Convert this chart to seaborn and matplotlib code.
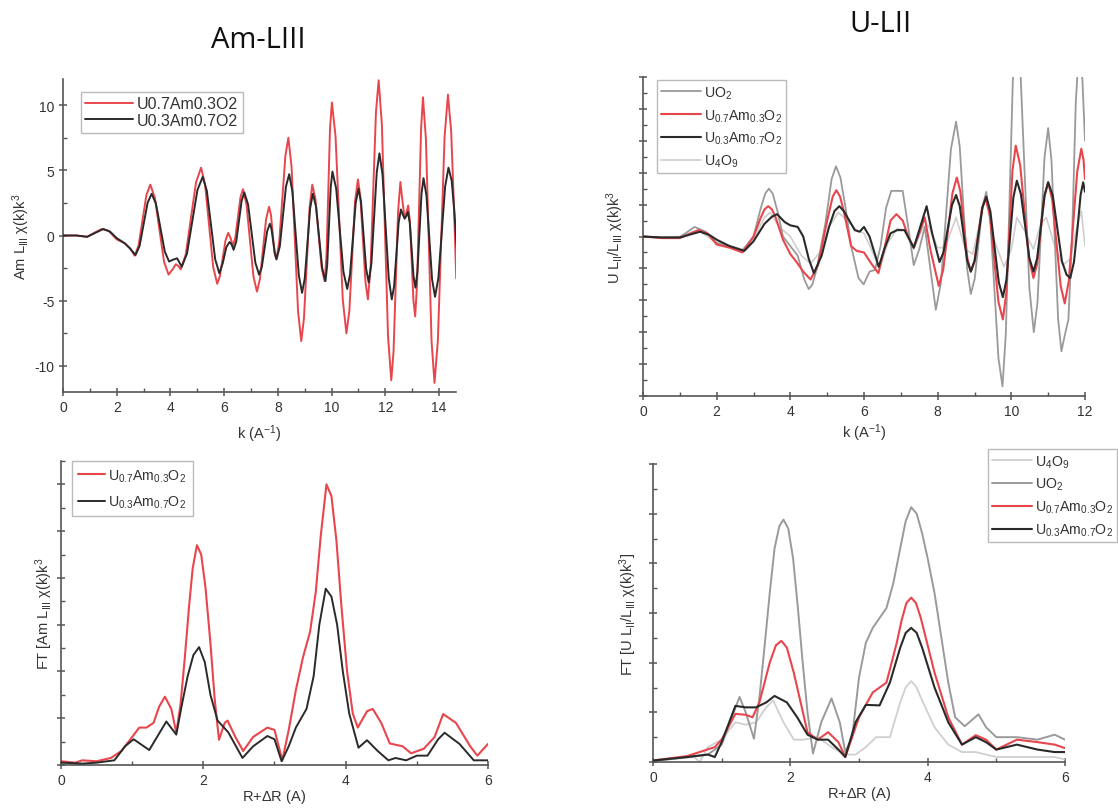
import numpy as np
import pandas as pd
import matplotlib
matplotlib.use("Agg")
import matplotlib.pyplot as plt
from matplotlib.ticker import MultipleLocator, NullFormatter
import seaborn as sns

# ---------------- data: top-left (Am L3 EXAFS) ----------------
tl_red_k = [0.0, 0.5, 0.9, 1.2, 1.45, 1.7, 2.0, 2.3, 2.5, 2.67,
            2.815, 2.96, 3.105, 3.25, 3.42, 3.59, 3.76, 3.93, 4.08, 4.2, 4.3, 4.38,
            4.57, 4.76, 4.95, 5.14, 5.29, 5.44, 5.59, 5.74, 5.84, 5.945, 6.05, 6.15, 6.24, 6.32,
            6.415, 6.51, 6.605, 6.70, 6.83, 6.96, 7.09, 7.22, 7.33, 7.445, 7.56, 7.67,
            7.74, 7.805, 7.87, 7.94, 8.05, 8.165, 8.28, 8.39, 8.51, 8.63, 8.75, 8.87,
            8.97, 9.075, 9.18, 9.28, 9.395, 9.51, 9.625, 9.74, 9.81, 9.875, 9.94, 10.01,
            10.145, 10.28, 10.415, 10.55, 10.66, 10.765, 10.87, 10.98, 11.07, 11.165, 11.26, 11.35,
            11.45, 11.55, 11.65, 11.75, 11.87, 11.985, 12.10, 12.22, 12.305, 12.39, 12.475, 12.56,
            12.64, 12.72, 12.79, 12.85, 12.915, 12.98, 13.045, 13.11, 13.18, 13.255, 13.33, 13.40,
            13.51, 13.615, 13.72, 13.83, 13.955, 14.08, 14.205, 14.33, 14.45, 14.55, 14.64]
tl_red_v = [0.0, 0.0, -0.1, 0.25, 0.5, 0.35, -0.3, -0.6, -1.0, -1.55,
            -0.75, 1.18, 3.10, 3.9, 2.89, 0.45, -1.99, -3.0, -2.6, -2.2, -2.35, -2.6,
            -1.46, 1.3, 4.06, 5.2, 3.9, 0.75, -2.4, -3.7, -3.13, -1.75, -0.37, 0.2, -0.2, -0.8,
            -0.16, 1.38, 2.91, 3.55, 2.40, -0.38, -3.15, -4.3, -3.35, -1.05, 1.25, 2.2,
            1.61, 0.18, -1.26, -1.85, -0.48, 2.83, 6.13, 7.5, 5.22, -0.3, -5.82, -8.1,
            -6.35, -2.1, 2.15, 3.9, 2.82, 0.2, -2.42, -3.5, -1.5, 3.35, 8.2, 10.2,
            7.62, 1.35, -4.92, -7.5, -5.78, -1.6, 2.58, 4.3, 2.96, -0.3, -3.56, -4.9,
            -2.45, 3.5, 9.45, 11.9, 8.54, 0.4, -7.74, -11.1, -8.88, -3.5, 1.88, 4.1,
            2.6, 1.3, 1.8, 2.3, 1.06, -1.95, -4.96, -6.2, -3.75, 2.2, 8.15, 10.6,
            7.4, -0.35, -8.1, -11.3, -8.07, -0.25, 7.57, 10.8, 8.0, 2.5, -3.3]
tl_blk_k = [0.0, 0.5, 0.9, 1.2, 1.5, 1.75, 2.0, 2.3, 2.5, 2.7,
            2.85, 3.0, 3.15, 3.3, 3.46, 3.625, 3.79, 3.95, 4.1, 4.25, 4.42,
            4.615, 4.81, 5.005, 5.2, 5.355, 5.51, 5.665, 5.82, 5.95, 6.08, 6.2, 6.28, 6.35,
            6.45, 6.55, 6.65, 6.75, 6.89, 7.025, 7.16, 7.3, 7.4, 7.5, 7.6, 7.7,
            7.76, 7.825, 7.89, 7.95, 8.07, 8.185, 8.3, 8.42, 8.54, 8.66, 8.78, 8.9,
            9.0, 9.1, 9.2, 9.3, 9.42, 9.535, 9.65, 9.77, 9.835, 9.9, 9.965, 10.03,
            10.17, 10.305, 10.44, 10.58, 10.685, 10.79, 10.895, 11.0, 11.095, 11.19, 11.285, 11.38,
            11.48, 11.58, 11.68, 11.78, 11.895, 12.01, 12.125, 12.24, 12.325, 12.41, 12.495, 12.58,
            12.65, 12.72, 12.78, 12.84, 12.91, 12.98, 13.05, 13.12, 13.195, 13.27, 13.345, 13.42,
            13.53, 13.635, 13.74, 13.85, 13.975, 14.1, 14.225, 14.35, 14.47, 14.57, 14.66]
tl_blk_v = [0.0, 0.0, -0.1, 0.2, 0.5, 0.3, -0.2, -0.6, -1.0, -1.5,
            -0.81, 0.85, 2.51, 3.2, 2.44, 0.6, -1.24, -2.0, -1.85, -1.75, -2.4,
            -1.39, 1.05, 3.49, 4.5, 3.42, 0.8, -1.82, -2.9, -2.1, -0.9, -0.5, -0.7, -1.1,
            -0.46, 1.1, 2.66, 3.3, 2.38, 0.15, -2.08, -3.0, -2.43, -1.05, 0.33, 0.9,
            0.51, -0.45, -1.41, -1.8, -0.85, 1.45, 3.75, 4.7, 3.37, 0.15, -3.07, -4.4,
            -3.29, -0.6, 2.09, 3.2, 2.22, -0.15, -2.52, -3.5, -2.27, 0.7, 3.67, 4.9,
            3.59, 0.4, -2.79, -4.1, -2.98, -0.25, 2.48, 3.6, 2.55, 0.0, -2.55, -3.6,
            -2.15, 1.35, 4.85, 6.3, 4.66, 0.7, -3.26, -4.9, -3.89, -1.45, 0.99, 2.0,
            1.6, 1.3, 1.5, 1.8, 0.95, -1.1, -3.15, -4.0, -2.77, 0.2, 3.17, 4.4,
            3.07, -0.15, -3.37, -4.7, -3.25, 0.25, 3.75, 5.2, 4.2, 1.8, -1.0]

# ---------------- data: top-right (U L2 EXAFS) ----------------
tr_uo2_k = [0.0, 0.5, 1.0, 1.4, 1.7, 2.0, 2.35, 2.7, 3.0, 3.2, 3.32, 3.42, 3.52, 3.65, 3.8, 4.0,
            4.2, 4.38, 4.5, 4.6, 4.72, 4.95, 5.12, 5.24, 5.36, 5.5, 5.65, 5.85, 5.99, 6.15, 6.3,
            6.45, 6.6, 6.74, 7.05, 7.2, 7.35, 7.5, 7.65, 7.8, 7.95,
            8.09, 8.225, 8.36, 8.5, 8.6, 8.7, 8.8, 8.9, 9.005, 9.11, 9.215, 9.32, 9.43, 9.54, 9.65,
            9.76, 9.85, 9.945, 10.04, 10.13, 10.25, 10.37, 10.49, 10.61, 10.71, 10.805, 10.9, 11.0,
            11.09, 11.18, 11.27, 11.36, 11.45, 11.55, 11.65, 11.75, 11.84, 11.93, 12.0]
tr_uo2_v = [0.0, -0.03, -0.02, 0.3, 0.15, -0.2, -0.3, -0.45, 0.0, 0.9, 1.35, 1.5, 1.35, 0.8, 0.0,
            -0.3, -0.6, -1.35, -1.65, -1.5, -1.0, 0.4, 1.8, 2.2, 1.85, 0.9, -0.3, -1.3, -1.5, -1.1,
            -1.05, -0.3, 0.9, 1.43, 1.43, 0.3, -0.9, -0.4, 0.3, -1.0, -2.3,
            -1.44, 0.65, 2.74, 3.6, 2.81, 0.9, -1.01, -1.8, -1.33, -0.2, 0.93, 1.4, 0.51, -1.65,
            -3.81, -4.7, -3.06, 0.9, 4.86, 6.5, 5.11, 1.75, -1.61, -3.0, -2.07, 0.2, 2.47, 3.4,
            2.38, -0.1, -2.58, -3.6, -3.1, -2.6, 0.0, 4.2, 6.0, 4.9, 3.0]
tr_red_k = [0.0, 0.5, 1.0, 1.5, 1.75, 2.0, 2.35, 2.7, 3.0, 3.2, 3.3, 3.4, 3.5, 3.6, 3.8, 4.0, 4.2,
            4.35, 4.55, 4.75, 5.0, 5.15, 5.25, 5.35, 5.45, 5.65, 5.8, 6.0, 6.2, 6.39, 6.55, 6.72,
            6.88, 7.05, 7.2, 7.35, 7.5, 7.65, 7.8, 8.03,
            8.15, 8.275, 8.4, 8.52, 8.615, 8.71, 8.805, 8.9, 9.0, 9.1, 9.2, 9.3, 9.42, 9.535, 9.65,
            9.77, 9.86, 9.945, 10.03, 10.12, 10.24, 10.36, 10.48, 10.6, 10.7, 10.8, 10.9, 11.0,
            11.11, 11.225, 11.34, 11.45, 11.56, 11.675, 11.79, 11.9, 11.96, 12.0]
tr_red_v = [0.0, -0.05, -0.05, 0.2, 0.1, -0.25, -0.35, -0.5, 0.0, 0.6, 0.85, 0.95, 0.85, 0.6, -0.1,
            -0.55, -0.85, -1.1, -1.35, -0.9, 0.5, 1.25, 1.45, 1.25, 0.8, -0.3, -0.45, -0.5, -0.85,
            -1.15, -0.4, 0.5, 0.7, 0.5, 0.0, -0.35, 0.1, 0.6, -0.4, -1.55,
            -1.05, 0.15, 1.35, 1.85, 1.42, 0.38, -0.67, -1.1, -0.76, 0.05, 0.86, 1.2, 0.65, -0.7,
            -2.05, -2.6, -1.8, 0.13, 2.05, 2.85, 2.24, 0.78, -0.69, -1.3, -0.86, 0.2, 1.26, 1.7,
            1.15, -0.2, -1.55, -2.1, -1.39, 0.33, 2.04, 2.75, 2.4, 1.8]
tr_blk_k = [0.0, 0.5, 1.0, 1.55, 1.8, 2.0, 2.35, 2.75, 3.0, 3.3, 3.5, 3.64, 3.85, 4.0, 4.2, 4.35,
            4.5, 4.64, 4.85, 5.05, 5.2, 5.33, 5.45, 5.55, 5.75, 5.88, 6.0, 6.15, 6.4, 6.55, 6.72,
            6.9, 7.1, 7.35, 7.5, 7.7, 7.85, 8.05,
            8.16, 8.275, 8.39, 8.5, 8.6, 8.7, 8.8, 8.9, 9.005, 9.11, 9.215, 9.32, 9.43, 9.545, 9.66,
            9.77, 9.865, 9.96, 10.055, 10.15, 10.26, 10.375, 10.49, 10.6, 10.7, 10.8, 10.9, 11.0,
            11.125, 11.25, 11.375, 11.5, 11.6, 11.7, 11.8, 11.88, 11.95, 12.0]
tr_blk_v = [0.0, -0.03, -0.03, 0.15, 0.05, -0.1, -0.3, -0.45, -0.15, 0.4, 0.62, 0.7, 0.45, 0.35,
            0.3, 0.0, -0.7, -1.15, -0.6, 0.3, 0.8, 0.95, 0.8, 0.6, 0.2, 0.15, 0.3, 0.0, -0.95,
            -0.4, 0.1, 0.2, 0.2, -0.35, 0.2, 0.95, 0.1, -0.8,
            -0.49, 0.25, 0.99, 1.3, 0.95, 0.1, -0.75, -1.1, -0.76, 0.08, 0.91, 1.25, 0.79, -0.33,
            -1.44, -1.9, -1.37, -0.08, 1.22, 1.75, 1.33, 0.33, -0.68, -1.1, -0.69, 0.3, 1.29, 1.7,
            1.28, 0.25, -0.78, -1.2, -1.3, -0.8, 0.3, 1.3, 1.7, 1.4]
tr_u4o9_k = [0.0, 0.5, 1.0, 1.5, 2.0, 2.7, 3.0, 3.3, 3.45, 3.7, 4.0, 4.3, 4.55, 4.8, 5.05, 5.3, 5.55,
             5.8, 6.0, 6.2, 6.42, 6.65, 6.9, 7.1, 7.35, 7.6, 7.75, 8.0, 8.2, 8.5, 8.75, 8.95, 9.1,
             9.3, 9.5, 9.8, 10.0, 10.15, 10.35, 10.6, 10.8, 10.95, 11.15, 11.4, 11.6, 11.8, 11.9, 12.0]
tr_u4o9_v = [0.0, -0.03, 0.0, 0.2, -0.2, -0.4, -0.05, 0.6, 0.75, 0.3, 0.0, -0.6, -0.85, -0.5, 0.3,
             0.75, 0.5, 0.2, 0.1, -0.4, -1.0, -0.2, 0.25, 0.2, -0.4, 0.3, 0.35, -0.35, -0.35, 0.6,
             -0.4, -0.55, 0.2, 1.3, 0.0, -0.95, -0.4, 0.6, 0.2, -0.4, 0.4, 0.6, -0.2, -0.9, -0.7,
             0.4, 0.8, -0.3]

# ---------------- data: bottom-left (FT Am) ----------------
bl_red_r = [0.0, 0.2, 0.3, 0.5, 0.7, 0.85, 1.0, 1.1, 1.2, 1.3, 1.38, 1.46, 1.55, 1.62, 1.68, 1.74,
            1.8, 1.85, 1.91, 1.97, 2.03, 2.1, 2.16, 2.22, 2.3, 2.34, 2.45, 2.56, 2.7, 2.9, 3.0,
            3.11, 3.2, 3.3, 3.4, 3.5, 3.58, 3.65, 3.73, 3.8, 3.87, 3.94, 4.02, 4.1, 4.17, 4.3,
            4.38, 4.5, 4.62, 4.8, 4.92, 5.1, 5.25, 5.37, 5.55, 5.75, 5.85, 6.0]
bl_red_v = [0.08, 0.05, 0.1, 0.08, 0.15, 0.3, 0.6, 0.8, 0.8, 0.9, 1.25, 1.46, 1.2, 0.69, 1.3, 2.3,
            3.4, 4.2, 4.7, 4.5, 3.8, 2.6, 1.4, 0.54, 0.9, 0.95, 0.6, 0.3, 0.6, 0.8, 0.75,
            0.1, 0.75, 1.6, 2.3, 2.85, 3.7, 4.9, 6.0, 5.75, 4.8, 3.4, 2.0, 1.1, 0.8, 1.15,
            1.2, 0.9, 0.46, 0.4, 0.25, 0.35, 0.6, 1.09, 0.9, 0.4, 0.2, 0.45]
bl_blk_r = [0.0, 0.3, 0.5, 0.75, 0.9, 1.02, 1.24, 1.48, 1.62, 1.7, 1.78, 1.86, 1.94, 2.02, 2.1, 2.2,
            2.35, 2.55, 2.7, 2.9, 3.0, 3.1, 3.2, 3.3, 3.45, 3.55, 3.63, 3.72, 3.8, 3.88, 3.96, 4.05,
            4.18, 4.3, 4.45, 4.6, 4.7, 4.85, 5.0, 5.15, 5.3, 5.39, 5.6, 5.8, 6.0]
bl_blk_v = [0.05, 0.03, 0.05, 0.1, 0.4, 0.55, 0.32, 0.93, 0.65, 1.3, 1.9, 2.35, 2.52, 2.2, 1.5, 0.95,
            0.7, 0.15, 0.4, 0.62, 0.55, 0.08, 0.4, 0.8, 1.2, 1.9, 3.0, 3.77, 3.6, 3.0, 2.0, 1.1,
            0.37, 0.53, 0.3, 0.1, 0.15, 0.1, 0.2, 0.2, 0.55, 0.69, 0.45, 0.1, 0.1]

# ---------------- data: bottom-right (FT U) ----------------
br_uo2_r = [0.0, 0.5, 0.8, 1.0, 1.26, 1.35, 1.47, 1.55, 1.63, 1.7, 1.77, 1.84, 1.9, 1.97, 2.04,
            2.11, 2.18, 2.25, 2.33, 2.45, 2.6, 2.72, 2.8, 2.9, 3.0, 3.1, 3.2, 3.3, 3.4, 3.5, 3.6,
            3.68, 3.76, 3.84, 3.92, 4.0, 4.1, 4.2, 4.3, 4.4, 4.54, 4.74, 4.85, 5.0, 5.3, 5.6,
            5.85, 6.0]
br_uo2_v = [0.02, 0.1, 0.15, 0.35, 1.31, 1.0, 0.47, 1.3, 2.4, 3.4, 4.3, 4.75, 4.88, 4.7, 4.1,
            3.1, 2.0, 1.0, 0.17, 0.8, 1.28, 0.8, 0.2, 0.5, 1.7, 2.4, 2.7, 2.9, 3.1, 3.6, 4.3,
            4.85, 5.13, 5.0, 4.6, 4.1, 3.4, 2.5, 1.6, 0.9, 0.72, 0.96, 0.7, 0.5, 0.5, 0.45,
            0.55, 0.45]
br_red_r = [0.0, 0.5, 0.9, 1.0, 1.2, 1.35, 1.45, 1.55, 1.7, 1.79, 1.87, 1.95, 2.05, 2.15, 2.25, 2.4,
            2.55, 2.7, 2.8, 3.0, 3.2, 3.4, 3.55, 3.62, 3.69, 3.76, 3.83, 3.9, 4.0, 4.1, 4.3, 4.5,
            4.7, 4.85, 5.0, 5.3, 5.6, 5.85, 6.0]
br_red_v = [0.03, 0.12, 0.3, 0.45, 0.97, 0.95, 0.9, 1.2, 2.0, 2.35, 2.44, 2.3, 1.8, 1.2, 0.6, 0.45,
            0.6, 0.4, 0.1, 0.9, 1.4, 1.6, 2.4, 2.85, 3.2, 3.31, 3.2, 2.9, 2.35, 1.8, 0.9, 0.35,
            0.54, 0.45, 0.25, 0.45, 0.4, 0.35, 0.28]
br_blk_r = [0.0, 0.5, 0.8, 0.9, 1.0, 1.2, 1.35, 1.5, 1.65, 1.77, 1.95, 2.1, 2.25, 2.4, 2.55, 2.7,
            2.8, 2.95, 3.1, 3.3, 3.45, 3.6, 3.68, 3.76, 3.84, 3.92, 4.1, 4.3, 4.5, 4.7, 4.85, 5.0,
            5.3, 5.6, 5.85, 6.0]
br_blk_v = [0.03, 0.1, 0.15, 0.1, 0.4, 1.13, 1.1, 1.1, 1.2, 1.33, 1.2, 0.9, 0.55, 0.45, 0.45, 0.25,
            0.1, 0.8, 1.15, 1.14, 1.6, 2.3, 2.6, 2.7, 2.6, 2.3, 1.5, 0.8, 0.35, 0.5, 0.4, 0.25,
            0.35, 0.25, 0.2, 0.2]
br_u4o9_r = [0.0, 0.6, 0.68, 0.8, 1.0, 1.2, 1.35, 1.5, 1.65, 1.75, 1.9, 2.05, 2.2, 2.4, 2.6, 2.8,
             2.95, 3.1, 3.25, 3.45, 3.6, 3.68, 3.76, 3.84, 3.9, 4.1, 4.3, 4.5, 4.7, 5.0, 5.5, 5.85,
             6.0]
br_u4o9_v = [0.02, 0.1, 0.0, 0.3, 0.45, 0.8, 0.75, 0.8, 1.1, 1.24, 0.8, 0.45, 0.45, 0.5, 0.3, 0.15,
             0.15, 0.3, 0.5, 0.5, 1.2, 1.5, 1.63, 1.5, 1.3, 0.7, 0.35, 0.2, 0.2, 0.1, 0.1, 0.1,
             0.05]

LBL_UO2 = r"UO$_2$"
LBL_R = r"U$_{0.7}$Am$_{0.3}$O$_2$"
LBL_B = r"U$_{0.3}$Am$_{0.7}$O$_2$"
LBL_U4 = r"U$_4$O$_9$"

# ---------------- styling ----------------
sns.set_style("white")
plt.rcParams['font.family'] = ['Liberation Sans', 'DejaVu Sans']
plt.rcParams['mathtext.fontset'] = 'custom'
plt.rcParams['mathtext.rm'] = 'Liberation Sans'
plt.rcParams['mathtext.it'] = 'Liberation Sans'
plt.rcParams['mathtext.default'] = 'regular'
plt.rcParams['axes.unicode_minus'] = False

RED = "#e8464c"
BLK = "#2a2a2a"
GRY = "#9a9a9a"
LGR = "#cfcfcf"
AXC = "#555555"
TXC = "#333333"

W, H = 1118, 812
fig = plt.figure(figsize=(W / 100, H / 100), dpi=100)


def box(l, t, r, b):
    return [l / W, 1 - b / H, (r - l) / W, (b - t) / H]


ax_tl = fig.add_axes(box(63, 80, 456, 393))
ax_tr = fig.add_axes(box(643, 78, 1085, 397))
ax_bl = fig.add_axes(box(61, 462, 488, 766))
ax_br = fig.add_axes(box(653, 465, 1065, 763))


def draw(ax, x, y, color, label, lw=1.4, z=2):
    sns.lineplot(x=x, y=y, ax=ax, color=color, label=label, linewidth=lw,
                 sort=False, estimator=None, zorder=z, solid_joinstyle="round")


def style(ax, xmaj, xmin, ymaj, ymin, ylabels=True):
    for s in ["top", "right"]:
        ax.spines[s].set_visible(False)
    for s in ["left", "bottom"]:
        ax.spines[s].set_color(AXC)
        ax.spines[s].set_linewidth(1.2)
    ax.xaxis.set_major_locator(MultipleLocator(xmaj))
    ax.xaxis.set_minor_locator(MultipleLocator(xmin))
    ax.yaxis.set_major_locator(MultipleLocator(ymaj))
    ax.yaxis.set_minor_locator(MultipleLocator(ymin))
    ax.tick_params(which="major", direction="inout", length=6, width=1.1, color=AXC,
                   labelsize=10, labelcolor=TXC, pad=3)
    ax.tick_params(which="minor", direction="in", length=3, width=1.0, color=AXC)
    ax.tick_params(left=True, bottom=True, which="both")
    if not ylabels:
        ax.yaxis.set_major_formatter(NullFormatter())


def leg(ax, fontsize, labelspacing, handlelength=3.0, borderpad=0.3, **kw):
    lg = ax.legend(frameon=True, fancybox=False, borderaxespad=0, handlelength=handlelength,
                   handletextpad=0.2, labelspacing=labelspacing, borderpad=borderpad,
                   fontsize=fontsize, **kw)
    fr = lg.get_frame()
    fr.set_edgecolor("#aaaaaa")
    fr.set_linewidth(1.0)
    for t in lg.get_texts():
        t.set_color(TXC)
    return lg


# ---- top-left ----
draw(ax_tl, tl_red_k, tl_red_v, RED, "U0.7Am0.3O2", z=2)
draw(ax_tl, tl_blk_k, tl_blk_v, BLK, "U0.3Am0.7O2", z=3)
ax_tl.set_xlim(0, 14.63)
ax_tl.set_ylim(-12, 12)
style(ax_tl, 2, 1, 5, 2.5)
ax_tl.set_xlabel(r"k (A$^{-1}$)", fontsize=10.5, color=TXC, labelpad=6)
ax_tl.set_ylabel(r"Am L$_{III}$ $\chi$(k)k$^{3}$", fontsize=10.5, color=TXC, labelpad=2)
leg(ax_tl, 11.5, 0.1, handlelength=3.0, loc="upper left", bbox_to_anchor=(0.045, 0.96))

# ---- top-right ----
draw(ax_tr, tr_uo2_k, tr_uo2_v, GRY, LBL_UO2, lw=1.3, z=2)
draw(ax_tr, tr_red_k, tr_red_v, RED, LBL_R, lw=1.5, z=3)
draw(ax_tr, tr_blk_k, tr_blk_v, BLK, LBL_B, lw=1.5, z=4)
draw(ax_tr, tr_u4o9_k, tr_u4o9_v, LGR, LBL_U4, lw=1.2, z=1)
ax_tr.set_xlim(0, 12)
ax_tr.set_ylim(-5, 5)
style(ax_tr, 2, 1, 1, 0.5, ylabels=False)
ax_tr.set_xlabel(r"k (A$^{-1}$)", fontsize=10.5, color=TXC, labelpad=2)
ax_tr.set_ylabel(r"U L$_{II}$/L$_{III}$ $\chi$(k)k$^{3}$", fontsize=10.5, color=TXC, labelpad=6)
leg(ax_tr, 10.2, 0.45, handlelength=2.8, loc="upper left", bbox_to_anchor=(0.032, 0.99))

# ---- bottom-left ----
draw(ax_bl, bl_red_r, bl_red_v, RED, LBL_R, lw=1.5, z=2)
draw(ax_bl, bl_blk_r, bl_blk_v, BLK, LBL_B, lw=1.4, z=3)
ax_bl.set_xlim(0, 6)
ax_bl.set_ylim(0, 6.5)
style(ax_bl, 2, 1, 1, 0.5, ylabels=False)
ax_bl.set_xlabel(r"R+$\Delta$R (A)", fontsize=10.5, color=TXC, labelpad=0)
ax_bl.set_ylabel(r"FT [Am L$_{III}$ $\chi$(k)k$^{3}$", fontsize=10.5, color=TXC, labelpad=-2)
leg(ax_bl, 10.2, 0.7, handlelength=1.9, borderpad=0.45, loc="upper left",
    bbox_to_anchor=(0.026, 1.0))

# ---- bottom-right ----
draw(ax_br, br_u4o9_r, br_u4o9_v, LGR, LBL_U4, lw=1.3, z=1)
draw(ax_br, br_uo2_r, br_uo2_v, GRY, LBL_UO2, lw=1.4, z=2)
draw(ax_br, br_red_r, br_red_v, RED, LBL_R, lw=1.5, z=3)
draw(ax_br, br_blk_r, br_blk_v, BLK, LBL_B, lw=1.5, z=4)
ax_br.set_xlim(0, 6)
ax_br.set_ylim(0, 6)
style(ax_br, 2, 1, 1, 0.5, ylabels=False)
ax_br.set_xlabel(r"R+$\Delta$R (A)", fontsize=10.5, color=TXC, labelpad=0)
ax_br.set_ylabel(r"FT [U L$_{II}$/L$_{III}$ $\chi$(k)k$^{3}$]", fontsize=10.5, color=TXC, labelpad=4)
leg(ax_br, 10.2, 0.45, handlelength=2.8, loc="upper right",
    bbox_to_anchor=(1117 / W, 1 - 450 / H), bbox_transform=fig.transFigure)

# ---- panel titles ----
fig.text(258 / W, 1 - 40 / H, "Am-LIII", ha="center", va="center", fontsize=21,
         family=["Open Sans", "DejaVu Sans"], color="#111111")
fig.text(880 / W, 1 - 24 / H, "U-LII", ha="center", va="center", fontsize=21,
         family=["Open Sans", "DejaVu Sans"], color="#111111")

fig.savefig("out.png", dpi=100, facecolor="white")
